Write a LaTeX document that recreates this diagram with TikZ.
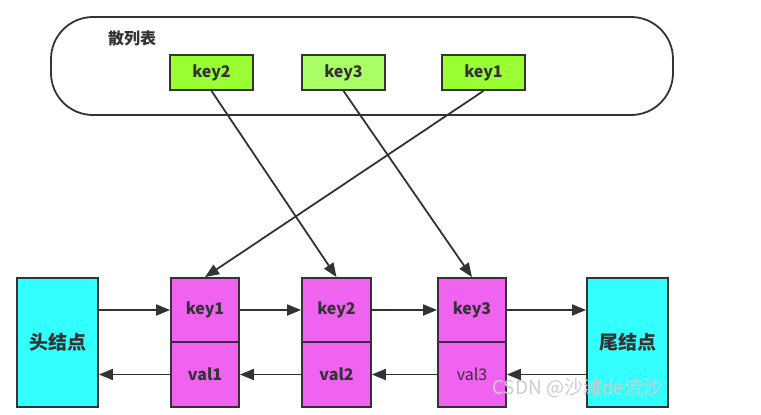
\documentclass[tikz,border=0pt]{standalone}
\usepackage{fontspec}
\setmainfont{Noto Sans CJK SC}
\usetikzlibrary{arrows.meta}
\definecolor{keygreen}{HTML}{99FF33}
\definecolor{keylight}{HTML}{AAFF66}
\definecolor{nodepink}{HTML}{F062F0}
\definecolor{nodecyan}{HTML}{33FFFF}
\definecolor{ink}{HTML}{333333}
\begin{document}
\begin{tikzpicture}[x=1pt,y=-1pt,
  hashkey/.style={draw=ink,line width=1.8pt,minimum width=83pt,minimum height=35pt,inner sep=0pt,
    font=\bfseries\fontsize{16}{16}\selectfont,text=ink,anchor=center},
  cell/.style={draw=ink,line width=1.8pt,fill=nodepink,inner sep=0pt,
    font=\bfseries\fontsize{16}{16}\selectfont,text=ink},
  endnode/.style={draw=ink,line width=1.8pt,fill=nodecyan,minimum width=81pt,minimum height=129pt,inner sep=0pt,
    font=\bfseries\fontsize{19}{19}\selectfont,text=ink},
  link/.style={draw=ink,line width=1.8pt,-{Triangle[length=14pt,width=11pt]}}]
\useasboundingbox (0,0) rectangle (761,415);
% hash table container
\node[draw=ink,line width=1.8pt,rounded corners=42pt,minimum width=622pt,minimum height=98pt,inner sep=0pt] (table) at (362,66) {};
\node[font=\bfseries\fontsize{16}{16}\selectfont,text=ink] (title) at (132,38) {散列表};
\node[hashkey,fill=keygreen] (hk2) at (211.5,72.5) {key2};
\node[hashkey,fill=keylight] (hk3) at (343.5,72.5) {key3};
\node[hashkey,fill=keygreen] (hk1) at (483.5,72.5) {key1};
% linked list
\node[endnode] (head) at (57.5,342.5) {头结点};
\node[endnode] (tail) at (627.5,342.5) {尾结点};
\node[cell,minimum width=68pt,minimum height=64pt] (k1) at (205,310) {key1};
\node[cell,minimum width=68pt,minimum height=65pt] (v1) at (205,374.5) {val1};
\node[cell,minimum width=69pt,minimum height=64pt] (k2) at (336.5,310) {key2};
\node[cell,minimum width=69pt,minimum height=65pt] (v2) at (336.5,374.5) {val2};
\node[cell,minimum width=68pt,minimum height=64pt] (k3) at (472,310) {key3};
\node[cell,minimum width=68pt,minimum height=65pt,font=\fontsize{16}{16}\selectfont] (v3) at (472,374.5) {val3};
% forward links
\draw[link] (head.east |- k1) -- (k1.west);
\draw[link] (k1.east) -- (k2.west);
\draw[link] (k2.east) -- (k3.west);
\draw[link] (k3.east) -- (tail.west |- k3);
% backward links
\draw[link] (tail.west |- v3) -- (v3.east);
\draw[link] (v3.west) -- (v2.east);
\draw[link] (v2.west) -- (v1.east);
\draw[link] (v1.west) -- (head.east |- v1);
% hash pointers
\draw[link] (hk2.south) -- (k2.north);
\draw[link] (hk3.south) -- (k3.north);
\draw[link] (hk1.south) -- (k1.north);
% watermark
\node[font=\fontsize{19}{19}\selectfont,text=gray!40,anchor=west,inner sep=0pt] (wm) at (492,388) {CSDN @沙滩de流沙};
\end{tikzpicture}
\end{document}
